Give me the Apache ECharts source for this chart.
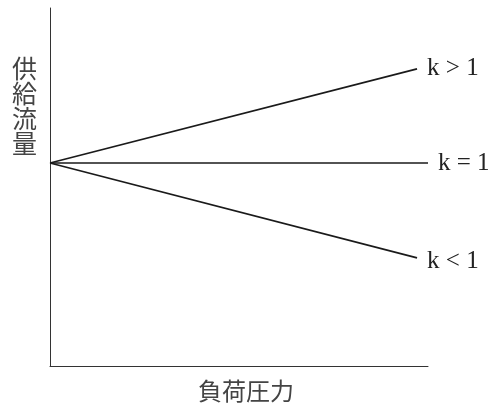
<!DOCTYPE html>
<html>
<head>
<meta charset="utf-8">
<script src="https://cdn.jsdelivr.net/npm/echarts@6/dist/echarts.min.js"></script>
<style>
  html, body { margin: 0; padding: 0; background: #fff; }
  #chart { width: 493px; height: 407px; }
</style>
</head>
<body>
<div id="chart"></div>
<script>
// values (x = load pressure, y = supply flow, arbitrary units)
const seriesNames = ['k > 1', 'k = 1', 'k < 1'];
const kGreater = [[0, 56.7], [97.1, 83.0]];
const kEqual = [[0, 56.7], [100, 56.7]];
const kLess = [[0, 56.7], [97.1, 30.2]];

const chart = echarts.init(document.getElementById('chart'));

const cjkFont = '"Noto Sans CJK JP", "Noto Sans CJK SC", sans-serif';
const serifFont = '"Liberation Serif", "DejaVu Serif", serif';

const makeLine = (name, data, offset) => ({
  name: name,
  type: 'line',
  data: data,
  symbol: 'none',
  lineStyle: { color: '#1a1a1a', width: 1.6 },
  endLabel: {
    show: true,
    formatter: '{a}',
    fontFamily: serifFont,
    fontSize: 25,
    color: '#222',
    distance: 10,
    offset: offset
  },
  silent: true
});

chart.setOption({
  animation: false,
  title: {
    text: '供\n給\n流\n量',
    left: 12,
    top: 56,
    padding: 0,
    textStyle: {
      fontFamily: cjkFont,
      fontWeight: 'normal',
      fontSize: 25,
      lineHeight: 25,
      color: '#444'
    }
  },
  grid: { left: 50, right: 65, top: 8, bottom: 41, outerBoundsMode: 'none' },
  xAxis: {
    type: 'value',
    min: 0,
    max: 100,
    name: '負荷圧力',
    nameLocation: 'middle',
    nameGap: 13,
    nameTextStyle: {
      fontFamily: cjkFont,
      fontSize: 24,
      color: '#444',
      verticalAlign: 'top',
      padding: [0, 0, 0, 14]
    },
    axisLine: { lineStyle: { color: '#333', width: 1 } },
    axisTick: { show: false },
    axisLabel: { show: false },
    splitLine: { show: false }
  },
  yAxis: {
    type: 'value',
    min: 0,
    max: 100,
    axisLine: { show: true, lineStyle: { color: '#333', width: 1 } },
    axisTick: { show: false },
    axisLabel: { show: false },
    splitLine: { show: false }
  },
  series: [
    makeLine(seriesNames[0], kGreater, [0, 0]),
    makeLine(seriesNames[1], kEqual, [0, 0]),
    makeLine(seriesNames[2], kLess, [0, 4])
  ]
});
</script>
</body>
</html>
